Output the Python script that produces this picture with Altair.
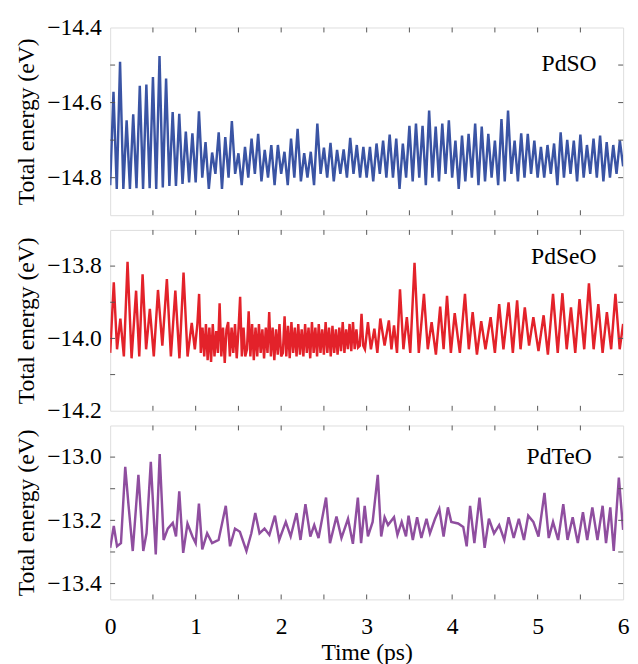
import altair as alt
import numpy as np
import pandas as pd

# ---------------- data ----------------
# PdSO: alternating trough / peak values, 0-3 ps and 3-6 ps (evenly sampled)
PDSO_A = [
    -14.82, -14.571, -14.83, -14.491, -14.83, -14.647, -14.83, -14.631,
    -14.828, -14.555, -14.83, -14.552, -14.828, -14.532, -14.83, -14.476,
    -14.826, -14.536, -14.822, -14.625, -14.822, -14.630, -14.817, -14.677,
    -14.813, -14.682, -14.813, -14.623, -14.80, -14.705, -14.83, -14.733,
    -14.79, -14.679, -14.83, -14.692, -14.80, -14.649, -14.79, -14.735,
    -14.82, -14.718, -14.80, -14.696, -14.79, -14.683, -14.81, -14.726,
    -14.80, -14.713, -14.82, -14.713, -14.79, -14.731, -14.82, -14.696,
    -14.80, -14.670, -14.81, -14.735, -14.80, -14.731, -14.82, -14.656,
    -14.79, -14.720, -14.80, -14.707, -14.81, -14.726, -14.79, -14.725,
    -14.80, -14.694, -14.79, -14.713, -14.80, -14.718,
]
PDSO_B = [
    -14.80, -14.718, -14.81, -14.709, -14.79, -14.701, -14.80, -14.685,
    -14.80, -14.696, -14.83, -14.709, -14.80, -14.662, -14.81, -14.656,
    -14.80, -14.662, -14.82, -14.621, -14.80, -14.664, -14.81, -14.656,
    -14.79, -14.647, -14.80, -14.701, -14.83, -14.688, -14.81, -14.683,
    -14.80, -14.656, -14.82, -14.664, -14.81, -14.683, -14.80, -14.701,
    -14.82, -14.644, -14.81, -14.621, -14.79, -14.701, -14.81, -14.682,
    -14.80, -14.683, -14.79, -14.701, -14.80, -14.718, -14.80, -14.713,
    -14.79, -14.709, -14.82, -14.679, -14.80, -14.699, -14.79, -14.701,
    -14.81, -14.685, -14.80, -14.713, -14.79, -14.696, -14.80, -14.688,
    -14.81, -14.705, -14.80, -14.713, -14.79, -14.701, -14.77,
]

# PdSeO: times (ps) and energies (eV)
PDSEO_T = [
    0.0, 0.042, 0.08, 0.119, 0.16, 0.203, 0.25, 0.303, 0.34, 0.379, 0.42, 0.464,
    0.51, 0.559, 0.61, 0.663, 0.71, 0.762, 0.81, 0.858, 0.905, 0.954, 0.99,
    1.02, 1.04, 1.06, 1.08, 1.10, 1.12, 1.14, 1.16, 1.18, 1.20, 1.22, 1.24,
    1.26, 1.28, 1.30, 1.32, 1.34, 1.36, 1.38, 1.40, 1.42, 1.44, 1.46, 1.48,
    1.50, 1.52, 1.54, 1.56, 1.58, 1.60, 1.62, 1.64, 1.66, 1.68, 1.70, 1.72,
    1.74, 1.76, 1.78, 1.80, 1.82, 1.84, 1.86, 1.88, 1.90, 1.92, 1.94, 1.96,
    1.98, 2.00, 2.02, 2.04, 2.06, 2.08, 2.10, 2.12, 2.14, 2.16, 2.18, 2.20,
    2.22, 2.24, 2.26, 2.28, 2.30, 2.32, 2.34, 2.36, 2.38, 2.40, 2.42, 2.44,
    2.46, 2.48, 2.50, 2.52, 2.54, 2.56, 2.58, 2.60, 2.62, 2.64, 2.66, 2.68,
    2.70, 2.72, 2.74, 2.76, 2.78, 2.80, 2.82, 2.84, 2.86, 2.88, 2.90, 2.92,
    2.94, 2.96, 2.98,
    3.015, 3.05, 3.09, 3.125, 3.16, 3.21, 3.26, 3.29, 3.32, 3.355, 3.39, 3.43,
    3.47, 3.51, 3.56, 3.61, 3.67, 3.715, 3.76, 3.81, 3.86, 3.90, 3.94, 3.985,
    4.03, 4.09, 4.15, 4.195, 4.24, 4.29, 4.34, 4.39, 4.45, 4.50, 4.55, 4.60,
    4.66, 4.71, 4.76, 4.80, 4.85, 4.90, 4.95, 5.01, 5.07, 5.12, 5.18, 5.235,
    5.29, 5.34, 5.39, 5.44, 5.49, 5.545, 5.60, 5.655, 5.71, 5.76, 5.81, 5.86,
    5.91, 5.96, 6.0,
]
PDSEO_E = [
    -14.04, -13.845, -14.03, -13.945, -14.05, -13.788, -14.055, -13.868, -14.05, -13.823,
    -14.03, -13.918, -14.05, -13.866, -14.02, -13.836, -14.05, -13.868, -14.055, -13.818,
    -14.05, -13.957, -14.03,
    -13.96, -13.877, -14.04, -13.97, -14.05, -13.96, -14.06, -13.97, -14.065, -13.96,
    -14.05, -13.98, -14.04, -13.903, -14.05, -13.97, -14.068, -13.975, -13.955, -14.05,
    -13.97, -14.04, -13.96, -14.055, -13.98, -13.885, -14.05, -13.97, -14.05, -14.03,
    -13.925, -14.05, -13.96, -14.06, -13.97, -14.05, -13.96, -14.04, -13.975, -14.055,
    -13.97, -14.04, -13.927, -14.05, -13.97, -14.06, -13.975, -14.045, -13.96, -14.05,
    -14.04, -13.939, -14.05, -13.965, -14.055, -13.955, -14.04, -13.97, -14.05, -13.96,
    -14.045, -13.975, -14.05, -13.96, -14.04, -13.97, -14.055, -13.955, -14.04, -13.97,
    -14.05, -13.96, -14.04, -13.975, -14.045, -13.955, -14.04, -13.97, -14.05, -13.965,
    -14.04, -13.975, -14.045, -13.97, -14.035, -13.955, -14.04, -13.975, -14.03, -13.96,
    -14.035, -13.955, -14.03, -13.975, -14.025, -14.02, -13.932, -14.02, -14.03,
    -13.955, -14.03, -13.973, -14.04, -13.945, -14.02, -13.95, -14.03, -13.964, -14.04,
    -13.864, -14.03, -13.941, -14.04, -13.791, -14.04, -13.877, -14.03, -13.955, -14.045,
    -13.912, -14.03, -13.882, -14.04, -13.93, -14.04, -13.877, -14.03, -13.927, -14.045,
    -13.952, -14.03, -13.941, -14.04, -13.905, -14.03, -13.90, -14.04, -13.895, -14.03,
    -13.914, -14.02, -13.941, -14.035, -13.936, -14.045, -13.877, -14.04, -13.875, -14.03,
    -13.914, -14.04, -13.891, -14.03, -13.848, -14.03, -13.905, -14.04, -13.927, -14.03,
    -13.877, -14.03, -13.96,
]

# PdTeO: times (ps) and energies (eV)
PDTEO_T = [
    0.0, 0.042, 0.080, 0.126, 0.176, 0.215, 0.264, 0.330, 0.387, 0.425,
    0.475, 0.533, 0.579, 0.625, 0.674, 0.732, 0.770, 0.808, 0.854, 0.904,
    0.962, 1.0, 1.038, 1.077, 1.134, 1.192, 1.268, 1.352, 1.402, 1.460,
    1.517, 1.594, 1.651, 1.697, 1.747, 1.805, 1.862, 1.927, 1.977, 2.054,
    2.111, 2.180, 2.226, 2.284, 2.341, 2.387, 2.437, 2.525, 2.571, 2.647,
    2.705, 2.782, 2.839, 2.897, 2.935, 2.977,
    3.015, 3.07, 3.13, 3.17, 3.21, 3.25, 3.32, 3.36, 3.41, 3.46,
    3.49, 3.54, 3.59, 3.64, 3.70, 3.74, 3.80, 3.85, 3.90, 3.95,
    3.99, 4.07, 4.13, 4.17, 4.21, 4.26, 4.32, 4.38, 4.43, 4.49,
    4.55, 4.61, 4.66, 4.72, 4.78, 4.84, 4.89, 4.95, 5.01, 5.08,
    5.13, 5.18, 5.24, 5.30, 5.35, 5.41, 5.47, 5.53, 5.58, 5.64,
    5.70, 5.76, 5.80, 5.85, 5.89, 5.95, 6.0,
]
PDTEO_E = [
    -13.287, -13.218, -13.282, -13.272, -13.031, -13.154, -13.297, -13.056, -13.297, -13.241,
    -13.015, -13.308, -12.990, -13.262, -13.226, -13.208, -13.251, -13.108, -13.303, -13.210,
    -13.251, -13.272, -13.147, -13.292, -13.241, -13.272, -13.262, -13.154, -13.282, -13.226,
    -13.236, -13.297, -13.241, -13.177, -13.241, -13.226, -13.246, -13.185, -13.262, -13.205,
    -13.251, -13.177, -13.262, -13.149, -13.251, -13.215, -13.256, -13.128, -13.272, -13.188,
    -13.256, -13.195, -13.274, -13.128, -13.272, -13.154,
    -13.251, -13.205, -13.056, -13.251, -13.190, -13.215, -13.190, -13.246, -13.205, -13.251,
    -13.185, -13.262, -13.190, -13.256, -13.195, -13.241, -13.195, -13.164, -13.251, -13.159,
    -13.205, -13.210, -13.221, -13.282, -13.154, -13.272, -13.128, -13.287, -13.195, -13.241,
    -13.215, -13.262, -13.190, -13.256, -13.195, -13.262, -13.185, -13.205, -13.251, -13.113,
    -13.256, -13.205, -13.262, -13.149, -13.262, -13.190, -13.272, -13.174, -13.262, -13.159,
    -13.262, -13.154, -13.272, -13.159, -13.297, -13.065, -13.23,
]

NAMES = ["PdSO", "PdSeO", "PdTeO"]
COLORS = ["#3a54a4", "#e3222a", "#8f4e9f"]
Y_DOMAINS = [[-14.9, -14.4], [-14.2, -13.7], [-13.45, -12.9]]
Y_LABELS = [[-14.8, -14.6, -14.4], [-14.2, -14.0, -13.8], [-13.4, -13.2, -13.0]]
Y_MINOR = [[-14.8, -14.7, -14.6, -14.5], [-14.1, -14.0, -13.9, -13.8],
           [-13.4, -13.3, -13.2, -13.1, -13.0]]
X_LABELS = [0, 1, 2, 3, 4, 5, 6]
X_MINOR = [0.5, 1, 1.5, 2, 2.5, 3, 3.5, 4, 4.5, 5, 5.5]

# ---------------- layout ----------------
W = 522
HEIGHTS = [191, 184, 177]
LABEL_POS = [(495, 37), (495, 28), (490, 32)]
FONT = "Liberation Serif"
FS = 24
TICK = "#555555"

n_a = len(PDSO_A)
t_so = list(np.linspace(0, 3, n_a, endpoint=False)) + list(np.linspace(3, 6, len(PDSO_B)))
series = [
    pd.DataFrame({"t": t_so, "v": PDSO_A + PDSO_B}),
    pd.DataFrame({"t": PDSEO_T, "v": PDSEO_E}),
    pd.DataFrame({"t": PDTEO_T, "v": PDTEO_E}),
]

xticks = pd.DataFrame({"t": X_MINOR})


def panel(i):
    H = HEIGHTS[i]
    last = i == 2
    xscale = alt.Scale(domain=[0, 6], nice=False, zero=False)
    yscale = alt.Scale(domain=Y_DOMAINS[i], nice=False, zero=False)
    xaxis = None
    if last:
        xaxis = alt.Axis(values=X_LABELS, format="d", title="Time (ps)", ticks=False,
                         domain=False, grid=False, labelFlush=False, labelPadding=16,
                         titlePadding=2, labelFont=FONT, titleFont=FONT,
                         labelFontSize=FS, titleFontSize=FS, titleFontWeight="normal",
                         labelColor="black", titleColor="black")
    yaxis = alt.Axis(values=Y_LABELS[i], title="Total energy (eV)",
                     labelExpr="'\u2212' + format(-datum.value, '.1f')",
                     ticks=False, domain=False, grid=False, labelFlush=False,
                     labelPadding=9, titlePadding=8, labelFont=FONT, titleFont=FONT,
                     labelFontSize=FS, titleFontSize=FS, titleFontWeight="normal",
                     labelColor="black", titleColor="black")

    def X(field="t"):
        return alt.X(f"{field}:Q", scale=xscale, axis=xaxis)

    def Y(field="v"):
        return alt.Y(f"{field}:Q", scale=yscale, axis=yaxis)

    line = alt.Chart(series[i]).mark_line(color=COLORS[i], strokeWidth=2.5, clip=True).encode(
        x=X(), y=Y())
    yt = pd.DataFrame({"v": Y_MINOR[i]})
    xb = alt.Chart(xticks).mark_rule(color=TICK, strokeWidth=1).encode(
        x=X(), y=alt.value(H), y2=alt.value(H - 5))
    xt = alt.Chart(xticks).mark_rule(color=TICK, strokeWidth=1).encode(
        x=X(), y=alt.value(0), y2=alt.value(5))
    yl = alt.Chart(yt).mark_rule(color=TICK, strokeWidth=1).encode(
        y=Y(), x=alt.value(0), x2=alt.value(5))
    yr = alt.Chart(yt).mark_rule(color=TICK, strokeWidth=1).encode(
        y=Y(), x=alt.value(W - 5), x2=alt.value(W))
    lx, ly = LABEL_POS[i]
    txt = alt.Chart(pd.DataFrame({"name": [NAMES[i]]})).mark_text(
        align="right", baseline="middle", font=FONT, fontSize=FS, color="black"
    ).encode(text="name:N", x=alt.value(lx), y=alt.value(ly))
    return alt.layer(line, xb, xt, yl, yr, txt).properties(width=W, height=H)


chart = alt.vconcat(panel(0), panel(1), panel(2), spacing=15, bounds="flush").properties(
    padding={"left": 6, "top": 1, "right": 0, "bottom": 0}
).configure_view(stroke="#666666", strokeWidth=1.2).configure(background="white")

chart.save("out.html", embed_options={"renderer": "svg", "actions": False})
